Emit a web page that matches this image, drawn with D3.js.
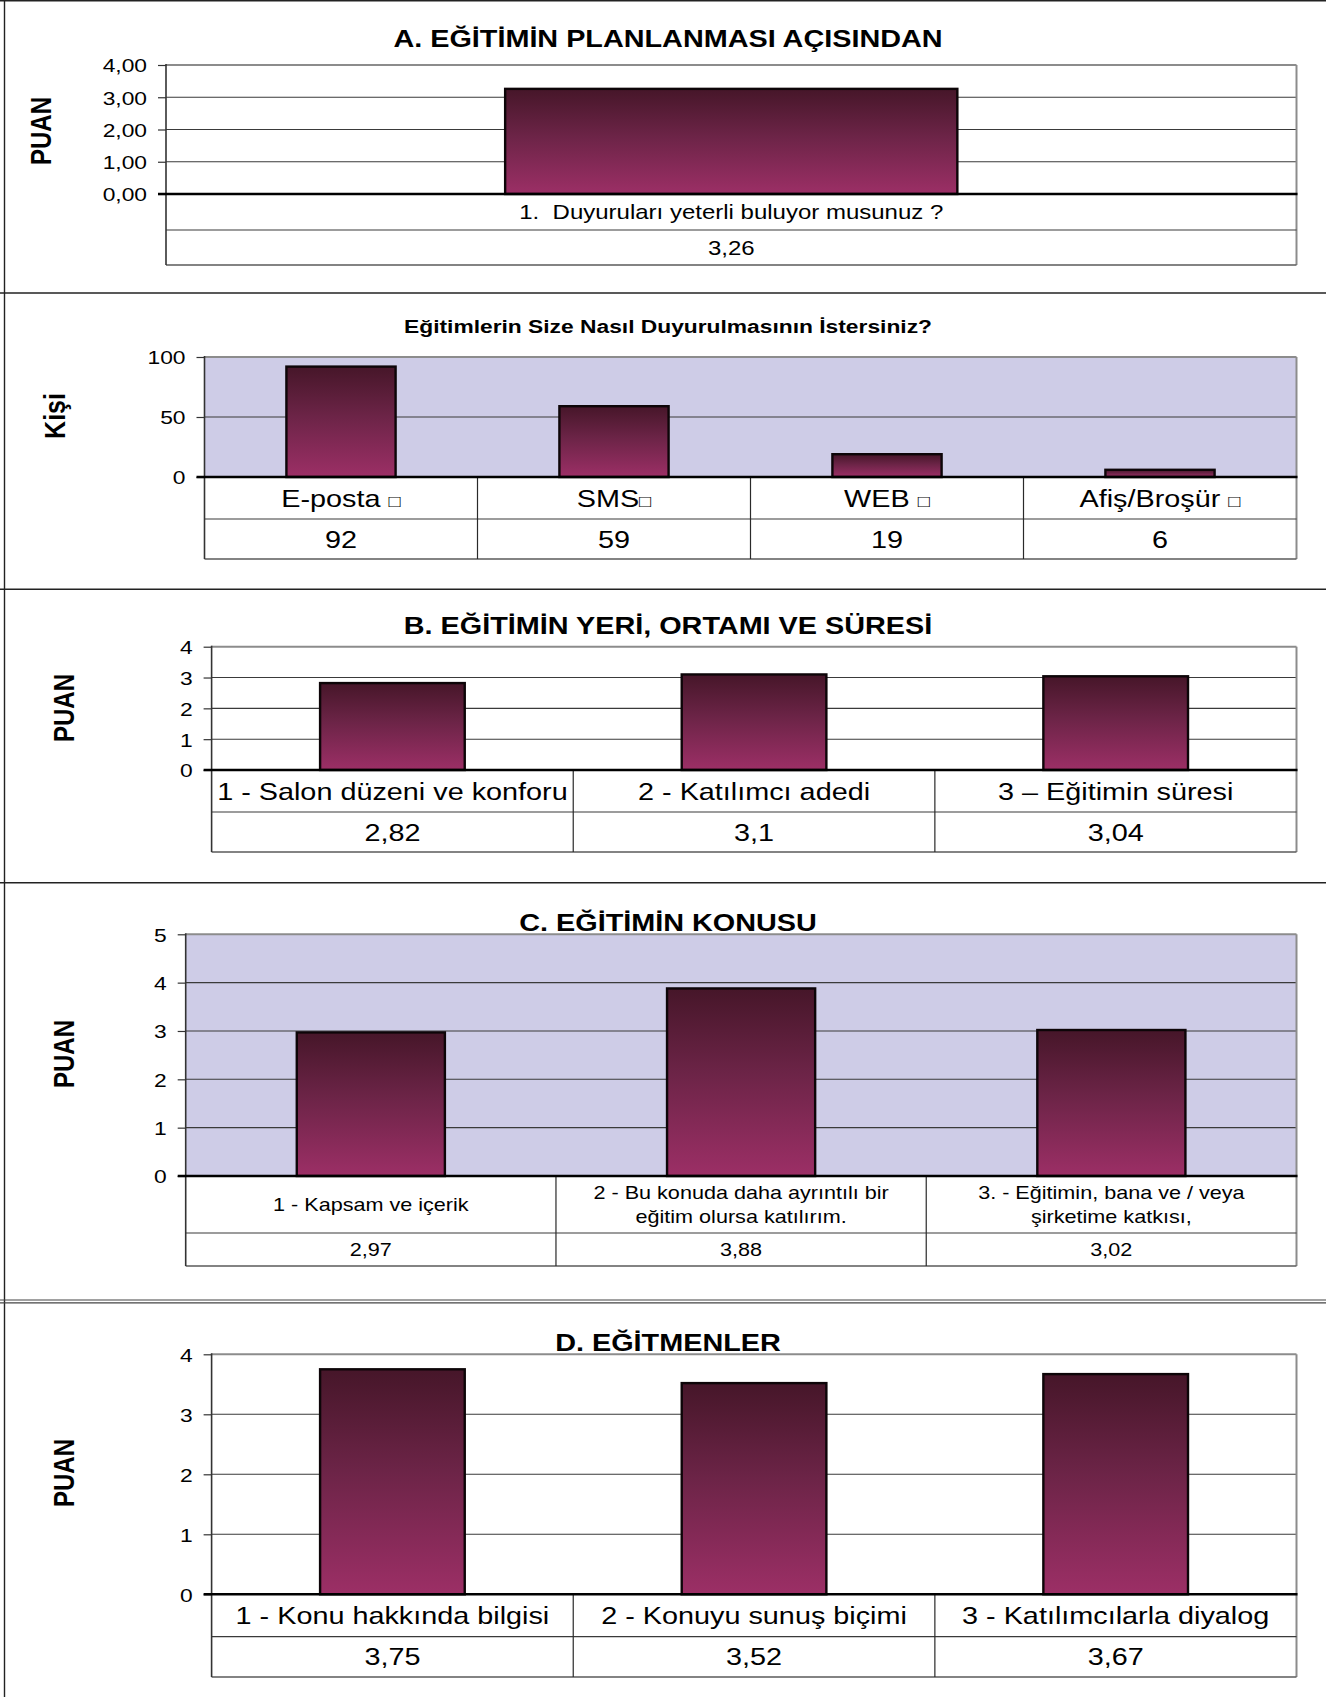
<!DOCTYPE html>
<html lang="tr">
<head>
<meta charset="utf-8">
<title>Eğitim Değerlendirme Anketi</title>
<script src="https://cdn.jsdelivr.net/npm/d3@7"></script>
<style>
  html, body { margin: 0; padding: 0; background: #fff; }
  svg { display: block; font-family: 'Liberation Sans', Arial, Helvetica, sans-serif; }
  svg text { white-space: pre; }
</style>
</head>
<body>
<svg id="chart" width="1326" height="1697"></svg>
<script>
// ---- Data ----------------------------------------------------------------
const titleA = "A. EĞİTİMİN PLANLANMASI AÇISINDAN";
const catsA = ["1.  Duyuruları yeterli buluyor musunuz ?"];
const valsA = [3.26];
const ticksA = [0, 1, 2, 3, 4];
const tickLabelsA = ["0,00", "1,00", "2,00", "3,00", "4,00"];

const titleK = "Eğitimlerin Size Nasıl Duyurulmasının İstersiniz?";
const catsK = ["E-posta □", "SMS□", "WEB □", "Afiş/Broşür □"];
const valsK = [92, 59, 19, 6];
const ticksK = [0, 50, 100];
const tickLabelsK = ["0", "50", "100"];

const titleB = "B. EĞİTİMİN YERİ, ORTAMI VE SÜRESİ";
const catsB = ["1 - Salon düzeni ve konforu", "2 - Katılımcı adedi", "3 – Eğitimin süresi"];
const valsB = [2.82, 3.1, 3.04];
const ticksB = [0, 1, 2, 3, 4];
const tickLabelsB = ["0", "1", "2", "3", "4"];

const titleC = "C. EĞİTİMİN KONUSU";
const catsC = ["1 - Kapsam ve içerik",
               "2 - Bu konuda daha ayrıntılı bir\neğitim olursa katılırım.",
               "3. - Eğitimin, bana ve / veya\nşirketime katkısı,"];
const valsC = [2.97, 3.88, 3.02];
const ticksC = [0, 1, 2, 3, 4, 5];
const tickLabelsC = ["0", "1", "2", "3", "4", "5"];

const titleD = "D. EĞİTMENLER";
const catsD = ["1 - Konu hakkında bilgisi", "2 - Konuyu sunuş biçimi", "3 - Katılımcılarla diyalog"];
const valsD = [3.75, 3.52, 3.67];
const ticksD = [0, 1, 2, 3, 4];
const tickLabelsD = ["0", "1", "2", "3", "4"];

// ---- Layout --------------------------------------------------------------
const SX = 1.2;               // horizontal stretch applied to all lettering
const LAVENDER = "#cecce7";
const CAP = 0.716;            // cap height / font size

const panels = [
  { title: titleA, titleSize: 24, titleY: 47, ylab: "PUAN", ylabSize: 24, ylabX: 51, ylabY: 131,
    cats: catsA, vals: valsA, ticks: ticksA, tickLabels: tickLabelsA,
    x0: 166, x1: 1296.5, top: 65, base: 194, rows: [230, 265], fill: null, catSize: 20, valSize: 20 },
  { title: titleK, titleSize: 19, titleY: 332.7, ylab: "Kişi", ylabSize: 25, ylabX: 65, ylabY: 416,
    cats: catsK, vals: valsK, ticks: ticksK, tickLabels: tickLabelsK,
    x0: 204.5, x1: 1296.5, top: 357, base: 477, rows: [519, 559], fill: LAVENDER, catSize: 24, valSize: 24 },
  { title: titleB, titleSize: 24, titleY: 634, ylab: "PUAN", ylabSize: 24, ylabX: 73.5, ylabY: 708,
    cats: catsB, vals: valsB, ticks: ticksB, tickLabels: tickLabelsB,
    x0: 211.6, x1: 1296.5, top: 646.7, base: 770, rows: [812, 852], fill: null, catSize: 24, valSize: 24 },
  { title: titleC, titleSize: 24, titleY: 930.7, ylab: "PUAN", ylabSize: 24, ylabX: 73.5, ylabY: 1054,
    cats: catsC, vals: valsC, ticks: ticksC, tickLabels: tickLabelsC,
    x0: 185.7, x1: 1296.5, top: 934.3, base: 1176, rows: [1233, 1266], fill: LAVENDER, catSize: 18, valSize: 18 },
  { title: titleD, titleSize: 24, titleY: 1351.3, ylab: "PUAN", ylabSize: 24, ylabX: 73.5, ylabY: 1473,
    cats: catsD, vals: valsD, ticks: ticksD, tickLabels: tickLabelsD,
    x0: 211.6, x1: 1296.5, top: 1354.3, base: 1594.3, rows: [1636.7, 1677], fill: null, catSize: 24, valSize: 24 }
];

const fmtValue = v => String(v).replace(".", ",");

// ---- Drawing -------------------------------------------------------------
const svg = d3.select("#chart");
svg.append("rect").attr("width", 1326).attr("height", 1697).attr("fill", "#fff");

const grad = svg.append("defs").append("linearGradient")
  .attr("id", "barFill").attr("x1", 0).attr("y1", 0).attr("x2", 0).attr("y2", 1);
grad.append("stop").attr("offset", "0%").attr("stop-color", "#461629");
grad.append("stop").attr("offset", "45%").attr("stop-color", "#6c2447");
grad.append("stop").attr("offset", "100%").attr("stop-color", "#9c2f66");

// text helper: every label is stretched horizontally by SX
function addText(sel, x, y, str, size, opts = {}) {
  const t = sel.append("text")
    .attr("transform", `translate(${x},${y}) scale(${SX},1)` + (opts.rotate ? ` rotate(${opts.rotate})` : ""))
    .attr("text-anchor", opts.anchor || "middle")
    .attr("font-size", size)
    .attr("font-weight", opts.bold ? "bold" : "normal")
    .attr("fill", "#000");
  if (str.includes("□")) {
    const parts = str.split("□");
    t.append("tspan").text(parts[0]);
    t.append("tspan").attr("font-size", size * 0.7).text("□");
  } else {
    t.text(str);
  }
  return t;
}

// page frame: top rule, left rule and section separators
const frame = svg.append("g").attr("stroke", "#222").attr("fill", "none");
frame.append("line").attr("x1", 0).attr("x2", 1326).attr("y1", 0.8).attr("y2", 0.8).attr("stroke-width", 1.6);
frame.append("line").attr("x1", 4.5).attr("x2", 4.5).attr("y1", 0).attr("y2", 1697).attr("stroke-width", 1.4);
[293, 589.3, 882.7].forEach(y =>
  frame.append("line").attr("x1", 0).attr("x2", 1326).attr("y1", y).attr("y2", y).attr("stroke-width", 1.4));
[1300, 1302.8].forEach(y =>
  frame.append("line").attr("x1", 0).attr("x2", 1326).attr("y1", y).attr("y2", y)
    .attr("stroke", "#444").attr("stroke-width", 1.2));

panels.forEach(p => {
  const g = svg.append("g");
  const n = p.cats.length;
  const idx = d3.range(n);
  const yMax = p.ticks[p.ticks.length - 1];

  const y = d3.scaleLinear().domain([0, yMax]).range([p.base, p.top]);
  const col = d3.scaleBand().domain(idx).range([p.x0, p.x1]);
  const xBar = d3.scaleBand().domain(idx).range([p.x0, p.x1]).paddingInner(0.6).paddingOuter(0.3);
  const tableBottom = p.rows[p.rows.length - 1];

  // plot area
  if (p.fill) {
    g.append("rect").attr("x", p.x0).attr("y", p.top)
      .attr("width", p.x1 - p.x0).attr("height", p.base - p.top).attr("fill", p.fill);
  }

  // horizontal gridlines
  g.append("g").selectAll("line")
    .data(p.ticks.filter(t => t > 0 && t < yMax))
    .join("line")
    .attr("x1", p.x0).attr("x2", p.x1)
    .attr("y1", d => y(d)).attr("y2", d => y(d))
    .attr("stroke", "#3a3a3a").attr("stroke-width", 1.1);

  // bars
  g.append("g").selectAll("rect")
    .data(p.vals)
    .join("rect")
    .attr("x", (d, i) => xBar(i))
    .attr("y", d => y(d))
    .attr("width", xBar.bandwidth())
    .attr("height", d => y(0) - y(d))
    .attr("fill", "url(#barFill)")
    .attr("stroke", "#0d0508").attr("stroke-width", 2.4);

  // plot top / right border (grey) and table right border
  g.append("line").attr("x1", p.x0).attr("x2", p.x1).attr("y1", p.top).attr("y2", p.top)
    .attr("stroke", "#8c8c8c").attr("stroke-width", 2);
  g.append("line").attr("x1", p.x1).attr("x2", p.x1).attr("y1", p.top).attr("y2", tableBottom)
    .attr("stroke", "#8c8c8c").attr("stroke-width", 2);

  // data table lines
  g.append("line").attr("x1", p.x0).attr("x2", p.x1).attr("y1", p.rows[0]).attr("y2", p.rows[0])
    .attr("stroke", "#3a3a3a").attr("stroke-width", 1.2);
  g.append("line").attr("x1", p.x0).attr("x2", p.x1).attr("y1", tableBottom).attr("y2", tableBottom)
    .attr("stroke", "#5a5a5a").attr("stroke-width", 1.6);
  g.append("g").selectAll("line")
    .data(idx.slice(1))
    .join("line")
    .attr("x1", d => col(d)).attr("x2", d => col(d))
    .attr("y1", p.base).attr("y2", tableBottom)
    .attr("stroke", "#2a2a2a").attr("stroke-width", 1.2);

  // y axis
  const axis = g.append("g").attr("transform", `translate(${p.x0},0)`)
    .call(d3.axisLeft(y).tickValues(p.ticks).tickSize(8).tickFormat((d, i) => p.tickLabels[i]));
  axis.select(".domain").remove();
  axis.selectAll(".tick line").attr("stroke", "#333").attr("stroke-width", 1.2);
  axis.selectAll(".tick text")
    .attr("x", -19 / SX).attr("dy", "0.36em")
    .attr("transform", `scale(${SX},1)`)
    .attr("font-size", 19).attr("font-family", null).attr("fill", "#000");

  g.append("line").attr("x1", p.x0).attr("x2", p.x0).attr("y1", p.top - 1).attr("y2", tableBottom)
    .attr("stroke", "#333").attr("stroke-width", 1.6);
  // category axis baseline
  g.append("line").attr("x1", p.x0 - 8).attr("x2", p.x1 + 1).attr("y1", p.base).attr("y2", p.base)
    .attr("stroke", "#000").attr("stroke-width", 2.6);

  // table text: category names and values
  const r1c = (p.base + p.rows[0]) / 2;
  const r2c = (p.rows[0] + p.rows[1]) / 2;
  p.cats.forEach((c, i) => {
    const cx = col(i) + col.bandwidth() / 2;
    const lines = c.split("\n");
    const lh = p.catSize * 1.36;
    lines.forEach((ln, k) => {
      const by = r1c + CAP * p.catSize / 2 + (k - (lines.length - 1) / 2) * lh;
      addText(g, cx, by, ln, p.catSize);
    });
    addText(g, cx, r2c + CAP * p.valSize / 2, fmtValue(p.vals[i]), p.valSize);
  });

  // title and y-axis label
  addText(g, 668, p.titleY, p.title, p.titleSize, { bold: true });
  addText(g, p.ylabX, p.ylabY, p.ylab, p.ylabSize, { bold: true, rotate: -90 });
});
</script>
</body>
</html>
